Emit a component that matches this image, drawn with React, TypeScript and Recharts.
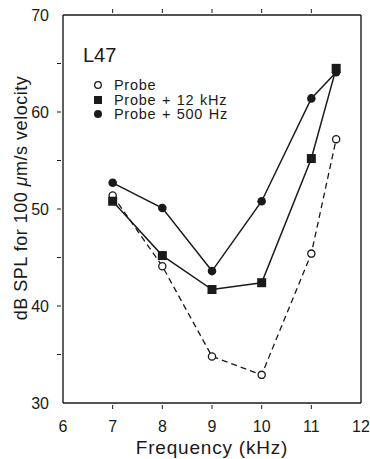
import { LineChart, Line, XAxis, YAxis, Legend, Label } from "recharts";

const freqs = [7, 8, 9, 10, 11, 11.5];
const probe = [51.4, 44.1, 34.8, 32.9, 45.4, 57.2];
const probe12k = [50.8, 45.2, 41.7, 42.4, 55.2, 64.5];
const probe500 = [52.7, 50.1, 43.6, 50.8, 61.4, 64.1];

const xTicks = [6, 7, 8, 9, 10, 11, 12];
const yTicks = [30, 35, 40, 45, 50, 55, 60, 65, 70];

const data = freqs.map((f, i) => ({
  f,
  probe: probe[i],
  p12: probe12k[i],
  p500: probe500[i],
}));

const FONT = "'Liberation Sans', Arial, sans-serif";
const INK = "#1a1a1a";

function LeftTick({ x, y, payload }: any) {
  const major = payload.value % 10 === 0;
  return (
    <g>
      {payload.value !== 30 && payload.value !== 70 && (
        <line x1={x} y1={y} x2={x + 4} y2={y} stroke={INK} strokeWidth={1} />
      )}
      {major && (
        <text x={x - 8} y={y + 6} textAnchor="end" fontSize={16} fill={INK} fontFamily={FONT}>
          {payload.value}
        </text>
      )}
    </g>
  );
}

function RightTick({ x, y, payload }: any) {
  if (payload.value === 30 || payload.value === 70) return <g />;
  return <line x1={x} y1={y} x2={x - 4} y2={y} stroke={INK} strokeWidth={1} />;
}

function BottomTick({ x, y, payload }: any) {
  const edge = payload.value === 6 || payload.value === 12;
  return (
    <g>
      {!edge && <line x1={x} y1={y} x2={x} y2={y - 4} stroke={INK} strokeWidth={1} />}
      <text x={x} y={y + 23} textAnchor="middle" fontSize={16} fill={INK} fontFamily={FONT}>
        {payload.value}
      </text>
    </g>
  );
}

function TopTick({ x, y, payload }: any) {
  if (payload.value === 6 || payload.value === 12) return <g />;
  return <line x1={x} y1={y} x2={x} y2={y + 4} stroke={INK} strokeWidth={1} />;
}

function OpenDot({ cx, cy }: any) {
  return <circle cx={cx} cy={cy} r={3.6} fill="#fff" stroke={INK} strokeWidth={1.3} />;
}

function SquareDot({ cx, cy }: any) {
  return <rect x={cx - 4.5} y={cy - 4.5} width={9} height={9} fill={INK} />;
}

function FilledDot({ cx, cy }: any) {
  return <circle cx={cx} cy={cy} r={4.3} fill={INK} />;
}

const legendItems = [
  { label: "Probe", kind: "open" },
  { label: "Probe + 12 kHz", kind: "square" },
  { label: "Probe + 500 Hz", kind: "filled" },
];

function LegendBox() {
  return (
    <div style={{ fontFamily: FONT, color: INK }}>
      <div style={{ fontSize: 20, lineHeight: "22px", marginBottom: 12, marginLeft: 1 }}>L47</div>
      {legendItems.map((it) => (
        <div
          key={it.label}
          style={{
            display: "flex",
            alignItems: "center",
            height: 14.5,
            fontSize: 14.5,
            lineHeight: "14.5px",
            marginLeft: 9,
          }}
        >
          <svg width={14} height={12} style={{ marginRight: 9 }}>
            {it.kind === "open" && <circle cx={7} cy={6} r={3.3} fill="#fff" stroke={INK} strokeWidth={1.3} />}
            {it.kind === "square" && <rect x={3} y={2} width={8} height={8} fill={INK} />}
            {it.kind === "filled" && <circle cx={7} cy={6} r={4} fill={INK} />}
          </svg>
          <span style={{ letterSpacing: 0.7, wordSpacing: 1 }}>{it.label}</span>
        </div>
      ))}
    </div>
  );
}

function YLabel() {
  const cx = 21;
  const cy = 198;
  return (
    <text
      x={cx}
      y={cy}
      transform={`rotate(-90 ${cx} ${cy})`}
      textAnchor="middle"
      dominantBaseline="central"
      fontSize={18}
      letterSpacing={0.5}
      fill={INK}
      fontFamily={FONT}
    >
      dB SPL for 100 <tspan fontStyle="italic">μ</tspan>m/s velocity
    </text>
  );
}

function XLabel({ viewBox }: any) {
  const cx = viewBox.x + viewBox.width / 2;
  return (
    <text x={cx} y={454} textAnchor="middle" fontSize={19} letterSpacing={0.8} fill={INK} fontFamily={FONT}>
      Frequency (kHz)
    </text>
  );
}

export default function App() {
  return (
    <div style={{ position: "absolute", left: 0, top: 0, width: 370, height: 459, background: "#fff" }}>
      <LineChart
        width={370}
        height={459}
        data={data}
        margin={{ top: 14, right: 8, left: 62, bottom: 55 }}
      >
        <XAxis
          xAxisId="b"
          dataKey="f"
          type="number"
          domain={[6, 12]}
          ticks={xTicks}
          height={1}
          tickLine={false}
          tickMargin={0}
          tick={<BottomTick />}
          axisLine={{ stroke: INK, strokeWidth: 1.4 }}
          interval={0}
        >
          <Label content={<XLabel />} />
        </XAxis>
        <XAxis
          xAxisId="t"
          orientation="top"
          dataKey="f"
          type="number"
          domain={[6, 12]}
          ticks={xTicks}
          height={1}
          tickLine={false}
          tickMargin={0}
          tick={<TopTick />}
          axisLine={{ stroke: INK, strokeWidth: 1.4 }}
          interval={0}
        />
        <YAxis
          yAxisId="l"
          type="number"
          domain={[30, 70]}
          ticks={yTicks}
          width={1}
          tickLine={false}
          tickMargin={0}
          tick={<LeftTick />}
          axisLine={{ stroke: INK, strokeWidth: 1.4 }}
          interval={0}
        >
          <Label content={<YLabel />} />
        </YAxis>
        <YAxis
          yAxisId="r"
          orientation="right"
          type="number"
          domain={[30, 70]}
          ticks={yTicks}
          width={1}
          tickLine={false}
          tickMargin={0}
          tick={<RightTick />}
          axisLine={{ stroke: INK, strokeWidth: 1.4 }}
          interval={0}
        />
        <Legend
          layout="vertical"
          align="center"
          verticalAlign="middle"
          content={<LegendBox />}
          wrapperStyle={{ position: "absolute", left: 82, top: 44, width: 230 }}
        />
        <Line
          xAxisId="b"
          yAxisId="l"
          dataKey="probe"
          stroke={INK}
          strokeWidth={1.3}
          strokeDasharray="6 4"
          dot={<OpenDot />}
          isAnimationActive={false}
        />
        <Line
          xAxisId="b"
          yAxisId="l"
          dataKey="p12"
          stroke={INK}
          strokeWidth={1.5}
          dot={<SquareDot />}
          isAnimationActive={false}
        />
        <Line
          xAxisId="b"
          yAxisId="l"
          dataKey="p500"
          stroke={INK}
          strokeWidth={1.5}
          dot={<FilledDot />}
          isAnimationActive={false}
        />
      </LineChart>
    </div>
  );
}
